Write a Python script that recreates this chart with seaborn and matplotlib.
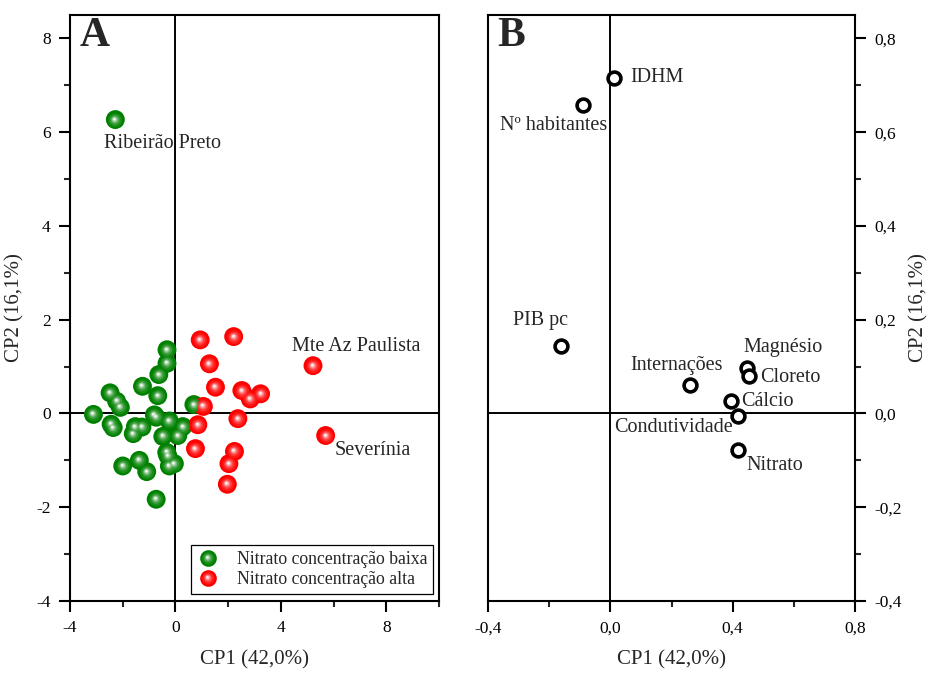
import numpy as np
import pandas as pd
import matplotlib
matplotlib.use("Agg")
import matplotlib.pyplot as plt
import seaborn as sns
from matplotlib.path import Path
from matplotlib.markers import MarkerStyle
from matplotlib.lines import Line2D
from matplotlib.legend_handler import HandlerTuple
from matplotlib.ticker import MultipleLocator, FuncFormatter
from matplotlib.colors import to_rgb

# scores (panel A)
low_x = [-0.32, -0.32, -0.63, -1.25, -2.48, -0.67, -2.23, -2.09, -3.11, -0.80,
         -0.73, -0.23, 0.70, 0.28, 0.09, -2.44, -2.36, -1.27, -1.52, -1.60,
         -0.48, -0.33, -0.29, -0.04, -0.23, -2.00, -1.37, -1.09, -0.73, -2.28]
low_y = [1.36, 1.07, 0.83, 0.58, 0.44, 0.38, 0.26, 0.13, -0.02, -0.03,
         -0.08, -0.16, 0.19, -0.28, -0.47, -0.23, -0.30, -0.29, -0.28, -0.43,
         -0.49, -0.83, -0.90, -1.07, -1.12, -1.12, -1.00, -1.24, -1.83, 6.27]
high_x = [0.94, 2.21, 1.29, 1.52, 2.52, 2.84, 3.23, 1.06, 2.37, 0.85,
          0.76, 2.24, 2.03, 1.97, 5.22, 5.70]
high_y = [1.57, 1.64, 1.06, 0.56, 0.49, 0.31, 0.42, 0.15, -0.11, -0.24,
          -0.75, -0.81, -1.07, -1.51, 1.02, -0.47]
groups = ["Nitrato concentração baixa", "Nitrato concentração alta"]
city_names = ["Ribeirão Preto", "Mte Az Paulista", "Severínia"]
city_label_x = [-2.70, 4.41, 6.05]
city_label_y = [5.76, 1.43, -0.79]

# loadings (panel B)
var_names = ["IDHM", "Nº habitantes", "PIB pc", "Internações", "Magnésio",
             "Cloreto", "Cálcio", "Condutividade", "Nitrato"]
load_x = [0.013, -0.088, -0.160, 0.261, 0.448, 0.454, 0.395, 0.418, 0.418]
load_y = [0.716, 0.659, 0.145, 0.060, 0.098, 0.079, 0.026, -0.006, -0.077]
var_label_x = [0.065, -0.186, -0.229, 0.217, 0.435, 0.490, 0.428, 0.399, 0.444]
var_label_y = [0.716, 0.614, 0.198, 0.102, 0.141, 0.077, 0.026, -0.030, -0.111]
var_label_ha = ["left", "center", "center", "center", "left", "left", "left", "right", "left"]

scores = pd.DataFrame({
    "CP1": low_x + high_x,
    "CP2": low_y + high_y,
    "grupo": [groups[0]] * len(low_x) + [groups[1]] * len(high_x),
})
loadings = pd.DataFrame({"CP1": load_x, "CP2": load_y, "var": var_names})

sns.set_style("white")
plt.rcParams["font.family"] = ["Liberation Serif", "DejaVu Serif"]
plt.rcParams["axes.unicode_minus"] = False

colors = {groups[0]: "#008000", groups[1]: "#ff0000"}
BALL_S = 185


def ball_layers(color):
    # small discs shifted to upper left, fading to white -> shaded sphere
    base = np.array(to_rgb(color))
    layers = []
    steps = [(0.72, 0.10), (0.52, 0.25), (0.36, 0.45), (0.24, 0.70), (0.13, 0.95)]
    for i, (r, w) in enumerate(steps):
        t = (i + 1) / len(steps)
        cx, cy = -0.12 * t, 0.14 * t
        circ = Path.circle((cx, cy), r)
        verts = np.vstack([circ.vertices, [[1.0, 0.0]], [[-1.0, 0.0]]])
        codes = np.concatenate([circ.codes, [Path.MOVETO, Path.MOVETO]])
        col = base * (1 - w) + np.ones(3) * w
        layers.append((MarkerStyle(Path(verts, codes)), col))
    return layers


fig = plt.figure(figsize=(9.31, 6.73), dpi=100)
axA = fig.add_axes([0.0752, 0.1070, 0.3963, 0.8707])
axB = fig.add_axes([0.5242, 0.1070, 0.3942, 0.8707])

# ---- panel A
axA.axhline(0, color="black", lw=1.4, zorder=1)
axA.axvline(0, color="black", lw=1.4, zorder=1)
sns.scatterplot(data=scores, x="CP1", y="CP2", hue="grupo", palette=colors,
                s=BALL_S, linewidth=0, legend=False, ax=axA, zorder=3)
for g in groups:
    sub = scores[scores["grupo"] == g]
    for k, (mk, col) in enumerate(ball_layers(colors[g])):
        axA.scatter(sub["CP1"], sub["CP2"], s=BALL_S, marker=mk, color=col,
                    linewidths=0, zorder=4 + k)

for name, tx, ty in zip(city_names, city_label_x, city_label_y):
    axA.text(tx, ty, name, fontsize=14.5, ha="left", va="center", zorder=10)

axA.set_xlim(-4, 10)
axA.set_ylim(-4, 8.5)
axA.xaxis.set_major_locator(MultipleLocator(4))
axA.xaxis.set_minor_locator(MultipleLocator(2))
axA.yaxis.set_major_locator(MultipleLocator(2))
axA.yaxis.set_minor_locator(MultipleLocator(1))
axA.set_xlabel("CP1 (42,0%)", fontsize=15, labelpad=10)
axA.set_ylabel("CP2 (16,1%)", fontsize=15, labelpad=8)
axA.text(0.027, 0.997, "A", transform=axA.transAxes, fontsize=30,
         fontweight="bold", ha="left", va="top")

handles = []
for g in groups:
    parts = [Line2D([], [], ls="none", marker="o", markersize=12,
                    markerfacecolor=colors[g], markeredgewidth=0)]
    for mk, col in ball_layers(colors[g]):
        parts.append(Line2D([], [], ls="none", marker=mk, markersize=12,
                            markerfacecolor=col, markeredgewidth=0))
    handles.append(tuple(parts))
leg = axA.legend(handles, groups, handler_map={tuple: HandlerTuple(ndivide=1, pad=0)},
                 loc="lower right", bbox_to_anchor=(0.985, 0.012), borderaxespad=0,
                 fontsize=12.8, frameon=True, fancybox=False, framealpha=1,
                 edgecolor="black", handlelength=1.2, handletextpad=1.0,
                 labelspacing=0.15, borderpad=0.35)
leg.get_frame().set_linewidth(0.9)

# ---- panel B
axB.axhline(0, color="black", lw=1.4, zorder=1)
axB.axvline(0, color="black", lw=1.4, zorder=1)
sns.scatterplot(data=loadings, x="CP1", y="CP2", s=85, facecolor="white",
                edgecolor="black", linewidth=2.6, ax=axB, zorder=3)
for name, tx, ty, ha in zip(var_names, var_label_x, var_label_y, var_label_ha):
    axB.text(tx, ty, name, fontsize=14.5, ha=ha, va="center", zorder=10)

axB.set_xlim(-0.4, 0.8)
axB.set_ylim(-0.4, 0.85)
axB.xaxis.set_major_locator(MultipleLocator(0.4))
axB.xaxis.set_minor_locator(MultipleLocator(0.2))
axB.yaxis.set_major_locator(MultipleLocator(0.2))
axB.yaxis.set_minor_locator(MultipleLocator(0.1))
comma = FuncFormatter(lambda v, p: f"{v:.1f}".replace(".", ","))
axB.xaxis.set_major_formatter(comma)
axB.yaxis.set_major_formatter(comma)
axB.yaxis.tick_right()
axB.yaxis.set_label_position("right")
axB.set_xlabel("CP1 (42,0%)", fontsize=15, labelpad=10)
axB.set_ylabel("CP2 (16,1%)", fontsize=15, labelpad=5)
axB.text(0.025, 0.997, "B", transform=axB.transAxes, fontsize=30,
         fontweight="bold", ha="left", va="top")

for ax in (axA, axB):
    for sp in ax.spines.values():
        sp.set_visible(True)
        sp.set_color("black")
        sp.set_linewidth(1.5)
    ax.tick_params(which="major", direction="out", length=8, width=1.5,
                   labelsize=12.5, colors="black", pad=6)
    ax.tick_params(which="minor", direction="out", length=4.5, width=1.5)

axA.tick_params(which="both", bottom=True, left=True, top=False, right=False)
axB.tick_params(which="both", bottom=True, left=False, top=False, right=True)

fig.savefig("out.png", dpi=100)
